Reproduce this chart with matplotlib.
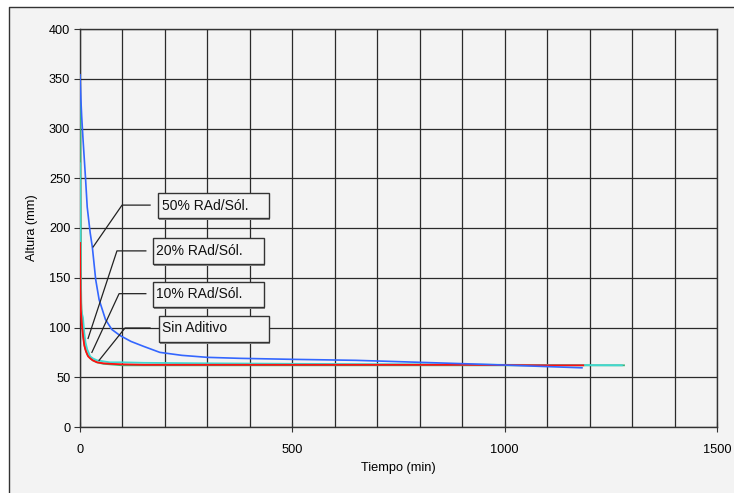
import matplotlib
matplotlib.use("Agg")
import matplotlib.pyplot as plt
from matplotlib.patches import Rectangle
from matplotlib.lines import Line2D
from matplotlib.ticker import MultipleLocator

# ---- data ----
t_50 = [0, 2, 4, 7, 10, 13, 17, 24, 29, 37, 45, 60, 75, 94, 120, 150, 188, 240, 300, 377, 500, 650, 800, 950, 1080, 1182]
h_50 = [354, 330, 312, 290, 270, 250, 221, 195, 181, 148, 128, 108, 98, 92, 86, 81, 75, 72, 70, 69, 68, 67, 65, 63, 61, 59.5]

t_20 = [0, 1, 2, 4, 7, 10, 13, 17, 24, 30, 40, 55, 70, 100, 150, 300, 500, 800, 1000, 1276]
h_20 = [265, 170, 120, 115, 110, 95, 85, 78, 71, 69, 67, 66, 65, 65, 64.5, 64, 63.5, 63, 62.5, 62]

t_10 = [0, 1, 2, 3, 5, 8, 12, 17, 24, 30, 40, 55, 70, 100, 150, 300, 500, 800, 1000, 1281]
h_10 = [352, 250, 160, 125, 105, 90, 79, 73, 69, 67, 65, 63.5, 63, 62, 62, 62, 62, 62, 62, 62]

t_sin = [0, 1, 2, 4, 7, 10, 14, 19, 24, 30, 40, 55, 70, 100, 150, 200, 300, 500, 700, 900, 1100, 1185]
h_sin = [185, 140, 118, 105, 92, 82, 76, 71, 69, 67, 65, 64, 63.5, 63, 62.5, 62.5, 62.5, 62.5, 62.5, 62.5, 62, 62]

labels = ["50% RAd/Sól.", "20% RAd/Sól.", "10% RAd/Sól.", "Sin Aditivo"]
x_ticks = [0, 500, 1000, 1500]
y_ticks = [0, 50, 100, 150, 200, 250, 300, 350, 400]

# ---- style ----
plt.rcParams['font.family'] = ['Liberation Sans', 'DejaVu Sans']
BG = '#f3f3f3'
FS = 9.2
FS_ANN = 10

fig = plt.figure(figsize=(7.34, 4.93), dpi=100, facecolor='white')
# outer chart area: fill plus left/top frame edges (right/bottom lie outside the image)
x0, y1 = 8.5 / 734, 1 - 6.5 / 493
fig.patches.append(Rectangle((x0, 0), 1 - x0, y1, transform=fig.transFigure,
                             facecolor=BG, edgecolor='none', zorder=-10))
fig.lines.append(Line2D([x0, x0, 1], [0, y1, y1], transform=fig.transFigure,
                        color='#333333', lw=1.0))

ax = fig.add_axes([80 / 734, 1 - 427 / 493, (717 - 80) / 734, (427 - 29) / 493])
ax.set_facecolor(BG)
ax.set_xlim(0, 1500)
ax.set_ylim(0, 400)
ax.set_xticks(x_ticks)
ax.set_yticks(y_ticks)
ax.xaxis.set_minor_locator(MultipleLocator(100))
ax.grid(True, which='both', color='#2a2a2a', linewidth=0.9)
ax.tick_params(axis='x', which='minor', length=0)
ax.tick_params(axis='x', which='major', direction='inout', length=7, labelsize=FS, pad=9, color='#333333')
ax.tick_params(axis='y', which='major', direction='out', length=4, labelsize=FS, pad=3, color='#333333')
for s in ax.spines.values():
    s.set_color('#333333')
    s.set_linewidth(1.0)
ax.set_axisbelow(True)

ax.plot(t_10, h_10, color='#3cb37a', lw=1.3, zorder=3)
ax.plot(t_20, h_20, color='#40d8d0', lw=1.3, zorder=3)
ax.plot(t_sin, h_sin, color='#ff1010', lw=1.3, zorder=4)
ax.plot(t_50, h_50, color='#3366ff', lw=1.2, zorder=5)

ax.set_xlabel("Tiempo (min)", fontsize=FS, labelpad=4)
ax.set_ylabel("Altura (mm)", fontsize=FS, labelpad=8)

# ---- annotation boxes & leader lines (layout) ----
boxes = [
    ((184, 210), 261, 25, (192, 222.5), [(165, 223), (99, 223), (31, 181)]),
    ((172, 164), 261, 26, (180, 177), [(155, 177), (87, 177), (19, 89)]),
    ((172, 121), 261, 25, (180, 133.5), [(155, 134), (92, 134), (28, 75)]),
    ((186, 85), 259, 27, (194, 99), [(165, 99.5), (106, 99.5), (45, 67)]),
]
for lab, (xy, w, h, txy, lead) in zip(labels, boxes):
    ax.add_patch(Rectangle((xy[0] + 2.5, xy[1] - 2), w, h, facecolor='#8a8a8a', edgecolor='none', zorder=6))
    ax.add_patch(Rectangle(xy, w, h, facecolor=BG, edgecolor='#333333', lw=1.0, zorder=7))
    ax.text(txy[0], txy[1], lab, fontsize=FS_ANN, va='center', ha='left', zorder=8, color='#111111')
    xs = [p[0] for p in lead]
    ys = [p[1] for p in lead]
    ax.plot(xs, ys, color='#222222', lw=0.9, zorder=6)

fig.savefig("out.png", dpi=100, facecolor='white')
